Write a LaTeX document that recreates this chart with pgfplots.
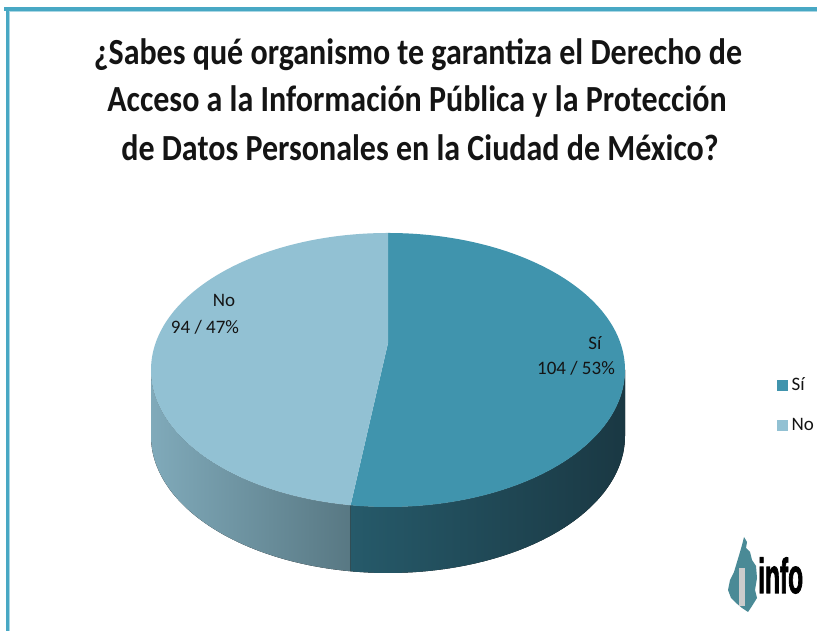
\documentclass[border=0pt]{standalone}
\usepackage{fontspec}
\setmainfont{Carlito}
\newfontfamily\logofont[BoldFeatures={FakeBold=2.5}]{Liberation Sans}
\usepackage{pgfplots}
\usepackage{pgfplotstable}
\pgfplotsset{compat=1.18}
\definecolor{siTop}{RGB}{64,148,173}
\definecolor{noTop}{RGB}{146,193,211}
\definecolor{siSideL}{RGB}{38,90,106}
\definecolor{siSideR}{RGB}{26,56,67}
\definecolor{noSideL}{RGB}{128,170,186}
\definecolor{noSideR}{RGB}{88,120,131}
\definecolor{frameC}{RGB}{72,168,196}
\definecolor{frameL}{RGB}{170,215,228}
\definecolor{logoC}{RGB}{74,138,150}
\definecolor{txt}{RGB}{20,20,20}

\pgfplotstableread{
cat count
Si 104
No 94
}\datatable

\newcommand\ttl[1]{\scalebox{1}[1.15]{\fontsize{32}{38}\bfseries\selectfont #1}}

\begin{document}
\begin{tikzpicture}
\pgfplotstablegetelem{0}{count}\of\datatable \edef\nSi{\pgfplotsretval}
\pgfplotstablegetelem{1}{count}\of\datatable \edef\nNo{\pgfplotsretval}
\pgfmathsetmacro\frac{\nSi/(\nSi+\nNo)}
\pgfmathsetmacro\splitang{90-360*\frac}
\pgfmathsetmacro\splitangb{360+\splitang}
\def\pieA{237}\def\pieB{137}\def\pieD{66}
\def\cx{388}\def\cy{261}\def\cyp{288}
\pgfmathsetmacro\sx{\cx+\pieA*cos(\splitang)}
\pgfmathsetmacro\sy{\cy+\pieB*sin(\splitang)}
\pgfmathsetmacro\lx{\cx-\pieA}
\pgfmathsetmacro\rx{\cx+\pieA}
\pgfmathsetmacro\ty{\cy+\pieB}
\begin{axis}[
  width=817pt,height=631pt,scale only axis,
  xmin=0,xmax=817,ymin=0,ymax=631,
  hide axis,clip=false,
  legend style={at={(axis cs:777,226)},anchor=west,draw=none,fill=none,
    font=\fontsize{19}{19}\selectfont,row sep=22pt,inner sep=0pt,
    nodes={inner sep=2pt,text=txt}},
  legend cell align=left,
]
\fill[white] (axis cs:0,0) rectangle (axis cs:817,631);
% frame
\fill[frameC] (axis cs:4,623.7) rectangle (axis cs:817,620.3);
\fill[frameL] (axis cs:8.7,620.3) rectangle (axis cs:817,619.3);
\fill[frameC] (axis cs:6,0) rectangle (axis cs:8.7,623.7);
\fill[frameL] (axis cs:8.7,0) rectangle (axis cs:10,620.3);

% side walls
\fill[left color=noSideL,right color=noSideR]
  (axis cs:\lx,\cy) arc[start angle=180,end angle=\splitangb,x radius=\pieA pt,y radius=\pieB pt]
  -- ++(0pt,-\pieD pt) arc[start angle=\splitangb,end angle=180,x radius=\pieA pt,y radius=\pieB pt] -- cycle;
\fill[left color=siSideL,right color=siSideR]
  (axis cs:\sx,\sy) arc[start angle=\splitang,end angle=0,x radius=\pieA pt,y radius=\pieB pt]
  -- ++(0pt,-\pieD pt) arc[start angle=0,end angle=\splitang,x radius=\pieA pt,y radius=\pieB pt] -- cycle;
% top faces (perspective centre slightly above the ellipse centre)
\fill[siTop] (axis cs:\cx,\cyp) -- (axis cs:\cx,\ty)
  arc[start angle=90,end angle=\splitang,x radius=\pieA pt,y radius=\pieB pt] -- cycle;
\fill[noTop] (axis cs:\cx,\cyp) -- (axis cs:\cx,\ty)
  arc[start angle=90,end angle=\splitangb,x radius=\pieA pt,y radius=\pieB pt] -- cycle;

% data labels
\node[font=\fontsize{19}{19}\selectfont,text=txt] at (axis cs:224,331) {No};
\node[font=\fontsize{19}{19}\selectfont,text=txt] at (axis cs:205,304) {94 / 47\%};
\node[font=\fontsize{19}{19}\selectfont,text=txt] at (axis cs:595,288) {Sí};
\node[font=\fontsize{19}{19}\selectfont,text=txt] at (axis cs:576,263) {104 / 53\%};

% title
\node[text=txt,inner sep=0pt] at (axis cs:418,576) {\ttl{¿Sabes qué organismo te garantiza el Derecho de}};
\node[text=txt,inner sep=0pt] at (axis cs:417,530) {\ttl{Acceso a la Información Pública y la Protección}};
\node[text=txt,inner sep=0pt] at (axis cs:420,483) {\ttl{de Datos Personales en la Ciudad de México?}};

% legend
\addlegendimage{legend image code/.code={\fill[siTop] (0pt,-5pt) rectangle (10pt,5pt);}}
\addlegendentry{\hspace{2pt}Sí}
\addlegendimage{legend image code/.code={\fill[noTop] (0pt,-5pt) rectangle (10pt,5pt);}}
\addlegendentry{\hspace{2pt}No}

% logo
\fill[logoC] (axis cs:744,94) -- (axis cs:747,89) -- (axis cs:746,83) -- (axis cs:750,79)
  -- (axis cs:752,71) -- (axis cs:756,65) -- (axis cs:757,53) -- (axis cs:755,41)
  -- (axis cs:757,33) -- (axis cs:752,25) -- (axis cs:748,19) -- (axis cs:742,23)
  -- (axis cs:736,28) -- (axis cs:731,33) -- (axis cs:728,41) -- (axis cs:730,51)
  -- (axis cs:734,59) -- (axis cs:737,69) -- (axis cs:740,79) -- (axis cs:742,86) -- cycle;
\fill[black!20] (axis cs:739,63) rectangle (axis cs:745,25);
\node[anchor=base west,inner sep=0pt,text=black] at (axis cs:758,38)
  {\scalebox{0.5}[1]{\logofont\fontsize{49}{49}\bfseries\selectfont info}};
\end{axis}
\end{tikzpicture}
\end{document}
